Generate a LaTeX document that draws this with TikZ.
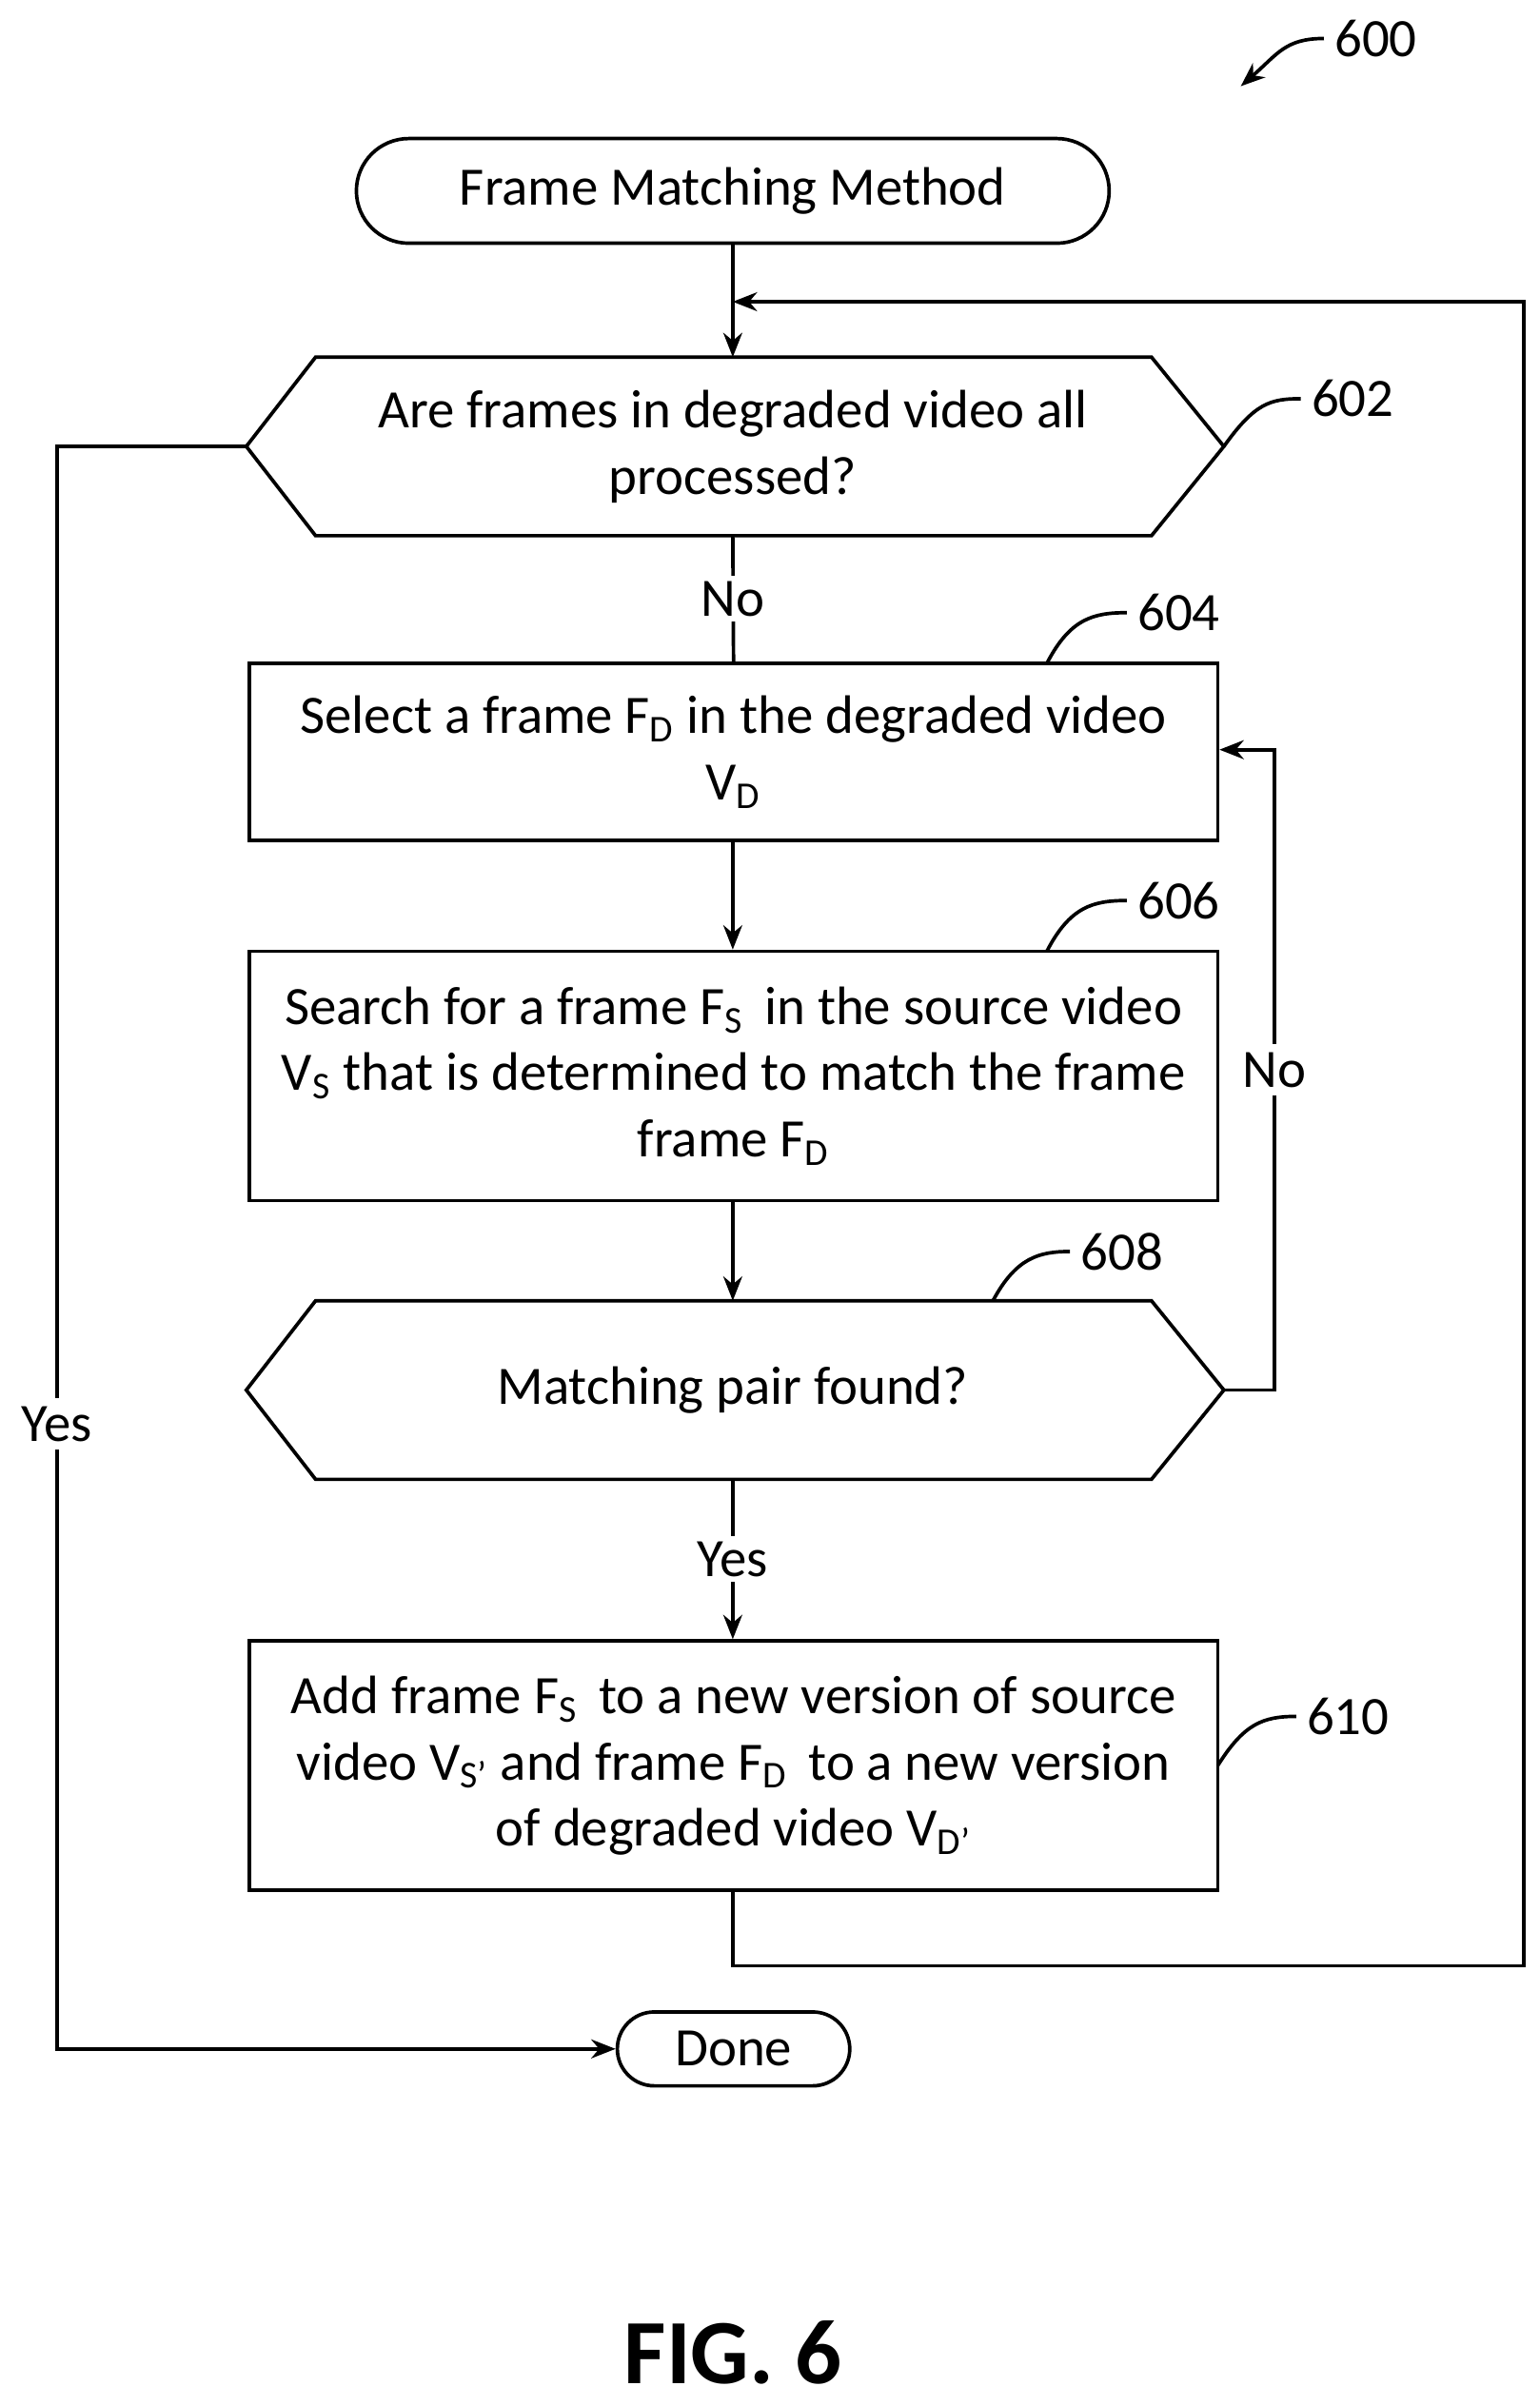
\documentclass[tikz,border=0pt]{standalone}
\usepackage{fontspec}
\setmainfont{Carlito}
\usetikzlibrary{arrows.meta}
\begin{document}
\begin{tikzpicture}[x=0.02cm,y=-0.02cm,line width=1.3pt,
  txt/.style={font=\fontsize{20}{24.5}\selectfont,align=center},
  lab/.style={font=\fontsize{20}{24.5}\selectfont},
  box/.style={draw,minimum width=629*0.02cm},
  arr/.style={-{Stealth[length=9pt,width=7pt]}}]
\useasboundingbox (0,0) rectangle (1000,1563);
% start
\node[draw,rounded corners=34*0.02cm,minimum width=489*0.02cm,minimum height=68*0.02cm,txt] (start) at (476,124) {Frame Matching Method};
% hex 602
\draw (160,290) -- (205,232) -- (748,232) -- (795,290) -- (748,348) -- (205,348) -- cycle;
\coordinate (h1l) at (160,290); \coordinate (h1r) at (795,290);
\coordinate (h1t) at (476,232); \coordinate (h1b) at (476,348);
\node[txt] (q1) at (476,290) {Are frames in degraded video all\\processed?};
% box 604
\node[box,minimum height=115*0.02cm,txt] (b604) at (476.5,488.5) {Select a frame F\textsubscript{D} in the degraded video\\V\textsubscript{D}};
% box 606
\node[box,minimum height=162*0.02cm,txt] (b606) at (476.5,699) {Search for a frame F\textsubscript{S}\, in the source video\\V\textsubscript{S} that is determined to match the frame\\frame F\textsubscript{D}};
% hex 608
\draw (160,903) -- (205,845) -- (748,845) -- (795,903) -- (748,961) -- (205,961) -- cycle;
\coordinate (h2l) at (160,903); \coordinate (h2r) at (795,903);
\coordinate (h2t) at (476,845); \coordinate (h2b) at (476,961);
\node[txt] (q2) at (476,903) {Matching pair found?};
% box 610
\node[box,minimum height=162*0.02cm,txt] (b610) at (476.5,1147) {Add frame F\textsubscript{S}\, to a new version of source\\video V\textsubscript{S'} and frame F\textsubscript{D}\, to a new version\\of degraded video V\textsubscript{D'}};
% done
\node[draw,rounded corners=24*0.02cm,minimum width=151*0.02cm,minimum height=48*0.02cm,txt] (done) at (476.5,1331) {Done};
% connectors
\coordinate (loopin) at (476,196);
\draw[arr] (start) -- (h1t);
\draw (h1b) -- node[lab,fill=white,inner sep=2pt]{No} (b604.north);
\draw[arr] (b604.south -| 476,0) -- (b606.north -| 476,0);
\draw[arr] (b606.south -| 476,0) -- (h2t);
\draw[arr] (h2b) -- node[lab,fill=white,inner sep=2pt]{Yes} (b610.north -| 476,0);
\draw[arr] (b610.south -| 476,0) -- (476,1277) -- (990,1277) -- (990,196) -- (loopin);
\draw[arr] (h2r) -- (828,903) -- node[lab,fill=white,inner sep=3pt,pos=0.5]{No} (828,487) -- (b604.east |- 0,487);
\draw[arr] (h1l) -- (37,290) -- node[lab,fill=white,inner sep=3pt,pos=0.61]{Yes} (37,1331) -- (done.west);
% reference numerals
\node[lab,anchor=west] (n600) at (860,25) {600};
\draw[arr] (860,25) .. controls (835,25) and (830,35) .. (806,56);
\node[lab,anchor=west] (n602) at (845,259) {602};
\draw (795,290) .. controls (815,262) and (825,259) .. (n602.west);
\node[lab,anchor=west] (n604) at (732,398) {604};
\draw (680,431) .. controls (695,402) and (710,398) .. (n604.west);
\node[lab,anchor=west] (n606) at (732,585) {606};
\draw (680,618) .. controls (695,589) and (710,585) .. (n606.west);
\node[lab,anchor=west] (n608) at (695,813) {608};
\draw (645,845) .. controls (660,817) and (675,813) .. (n608.west);
\node[lab,anchor=west] (n610) at (842,1115) {610};
\draw (791,1147) .. controls (808,1120) and (820,1115) .. (n610.west);
\node[font=\fontsize{34}{40}\selectfont\bfseries] (fig) at (476,1528) {FIG. 6};
\end{tikzpicture}
\end{document}
